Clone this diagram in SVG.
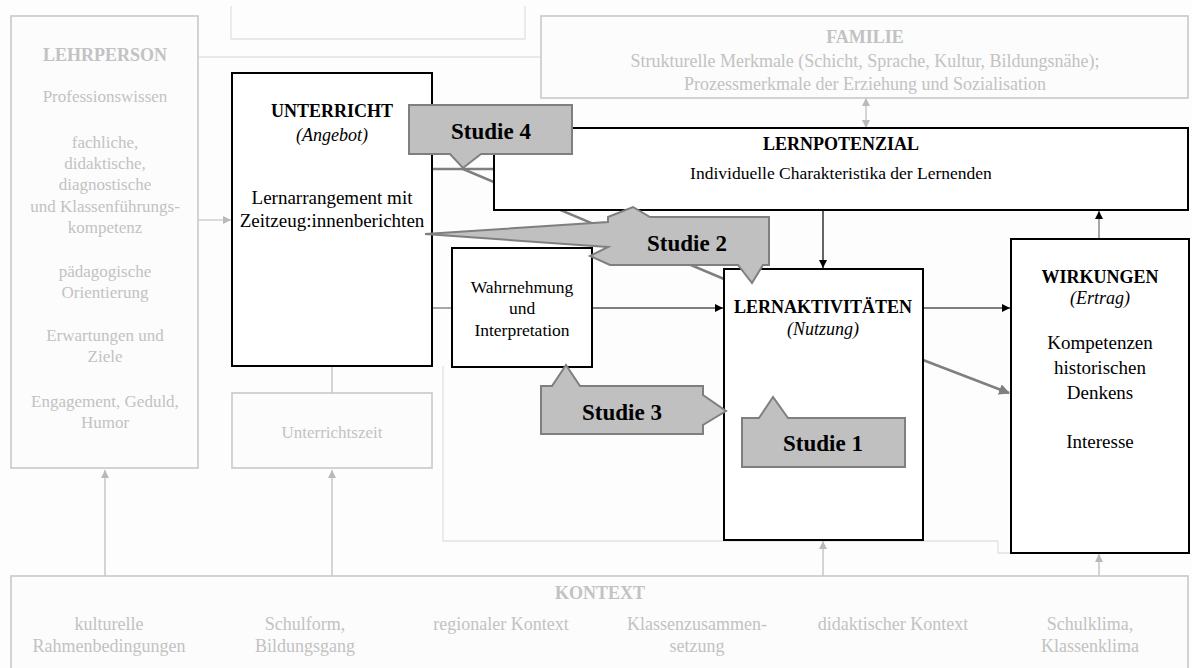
<svg xmlns="http://www.w3.org/2000/svg" width="1192" height="668" viewBox="0 0 1192 668">
  <style>
    text { font-family: "Liberation Serif", "Times New Roman", serif; text-anchor: middle; }
    .box { fill: #ffffff; stroke: #000000; stroke-width: 2; }
    .faintbox { fill: #fcfcfc; stroke: #c9c9c9; stroke-width: 1.6; }
    .faintline { fill: none; stroke: #e2e2e2; stroke-width: 1.3; }
    .ft { fill: #c2c2c2; font-size: 17px; }
    .fk { fill: #c2c2c2; font-size: 18px; }
    .fh { fill: #c2c2c2; font-size: 18px; font-weight: bold; }
    .h { fill: #000; font-size: 18px; font-weight: bold; }
    .it { fill: #000; font-size: 18px; font-style: italic; }
    .t { fill: #000; font-size: 19px; }
    .ts { fill: #000; font-size: 17.5px; }
    .callout { fill: #c0c0c0; stroke: #7f7f7f; stroke-width: 2; stroke-linejoin: miter; }
    .ct { fill: #000; font-size: 23px; font-weight: bold; }
    .blk { fill: none; stroke: #000; stroke-width: 1.2; }
    .lgray { fill: none; stroke: #b9b9b9; stroke-width: 1.2; }
    .dgray { fill: none; stroke: #7f7f7f; stroke-width: 2.5; }
    .mgray { fill: none; stroke: #6e6e6e; stroke-width: 1.2; }
  </style>
  <defs>
    <marker id="ah-black" viewBox="0 0 10 10" refX="10" refY="5" markerWidth="8" markerHeight="8" markerUnits="userSpaceOnUse" orient="auto">
      <path d="M0,0 L10,5 L0,10 z" fill="#000"/>
    </marker>
    <marker id="ah-light" viewBox="0 0 10 10" refX="10" refY="5" markerWidth="8" markerHeight="8" markerUnits="userSpaceOnUse" orient="auto">
      <path d="M0,0 L10,5 L0,10 z" fill="#b9b9b9"/>
    </marker>
    <marker id="ah-light-start" viewBox="0 0 10 10" refX="0" refY="5" markerWidth="8" markerHeight="8" markerUnits="userSpaceOnUse" orient="auto">
      <path d="M10,0 L0,5 L10,10 z" fill="#b9b9b9"/>
    </marker>
    <marker id="ah-dark" viewBox="0 0 10 10" refX="9" refY="5" markerWidth="11" markerHeight="11" markerUnits="userSpaceOnUse" orient="auto">
      <path d="M0,0 L10,5 L0,10 z" fill="#7f7f7f"/>
    </marker>
  </defs>

  <!-- page -->
  <rect x="0" y="0" width="1192" height="668" fill="#fdfdfd"/>

  <!-- faint frame lines in the background -->
  <g id="frame">
    <polyline class="faintline" points="231,6 231,39 525,39 525,6"/>
    <line class="faintline" x1="198" y1="57" x2="541" y2="57"/>
    <polyline class="faintline" points="443,366 443,541 998,541 998,553 1010,553"/>
  </g>

  <!-- connectors -->
  <g id="connectors">
    <line class="lgray" x1="198" y1="220" x2="231" y2="220" marker-end="url(#ah-light)"/>
    <line class="lgray" x1="332" y1="366" x2="332" y2="393"/>
    <line class="lgray" x1="866" y1="98" x2="866" y2="128" marker-start="url(#ah-light-start)" marker-end="url(#ah-light)"/>
    <line class="lgray" x1="105" y1="576" x2="105" y2="470" marker-end="url(#ah-light)"/>
    <line class="lgray" x1="332" y1="576" x2="332" y2="470" marker-end="url(#ah-light)"/>
    <line class="lgray" x1="823" y1="576" x2="823" y2="541" marker-end="url(#ah-light)"/>
    <line class="lgray" x1="1099" y1="576" x2="1099" y2="554" marker-end="url(#ah-light)"/>
    <line class="dgray" x1="432" y1="169" x2="494" y2="169" stroke-width="2"/>
    <line class="dgray" x1="463" y1="169" x2="724" y2="279" stroke-width="2"/>
    <line class="mgray" x1="432" y1="308" x2="452" y2="308"/>
    <line class="blk" x1="592" y1="308" x2="723" y2="308" marker-end="url(#ah-black)"/>
    <line class="blk" x1="823" y1="210" x2="823" y2="268" marker-end="url(#ah-black)"/>
    <line class="blk" x1="923" y1="308" x2="1010" y2="308" marker-end="url(#ah-black)"/>
    <line class="mgray" x1="1099" y1="239" x2="1099" y2="211" marker-end="url(#ah-black)"/>
    <line class="dgray" x1="923" y1="360" x2="1009" y2="393" marker-end="url(#ah-dark)"/>
  </g>

  <g id="lehrperson">
    <rect class="faintbox" x="11" y="16" width="187" height="452"/>
    <text class="fh" x="105" y="61">LEHRPERSON</text>
    <text class="ft" x="105" y="102">Professionswissen</text>
    <text class="ft" x="105" y="148">fachliche,</text>
    <text class="ft" x="105" y="169">didaktische,</text>
    <text class="ft" x="105" y="190">diagnostische</text>
    <text class="ft" x="105" y="212">und Klassenführungs-</text>
    <text class="ft" x="105" y="233">kompetenz</text>
    <text class="ft" x="105" y="277">pädagogische</text>
    <text class="ft" x="105" y="298">Orientierung</text>
    <text class="ft" x="105" y="341">Erwartungen und</text>
    <text class="ft" x="105" y="362">Ziele</text>
    <text class="ft" x="105" y="407">Engagement, Geduld,</text>
    <text class="ft" x="105" y="428">Humor</text>
  </g>

  <g id="unterrichtszeit">
    <rect class="faintbox" x="232" y="393" width="200" height="75"/>
    <text class="ft" x="332" y="438">Unterrichtszeit</text>
  </g>

  <g id="familie">
    <rect class="faintbox" x="541" y="16" width="647" height="82"/>
    <text class="fh" x="865" y="43">FAMILIE</text>
    <text class="fk" x="865" y="67">Strukturelle Merkmale (Schicht, Sprache, Kultur, Bildungsnähe);</text>
    <text class="fk" x="865" y="90">Prozessmerkmale der Erziehung und Sozialisation</text>
  </g>

  <g id="kontext">
    <rect class="faintbox" x="11" y="576" width="1177" height="100"/>
    <text class="fh" x="600" y="599">KONTEXT</text>
    <text class="fk" x="109" y="630">kulturelle</text>
    <text class="fk" x="109" y="652">Rahmenbedingungen</text>
    <text class="fk" x="305" y="630">Schulform,</text>
    <text class="fk" x="305" y="652">Bildungsgang</text>
    <text class="fk" x="501" y="630">regionaler Kontext</text>
    <text class="fk" x="697" y="630">Klassenzusammen-</text>
    <text class="fk" x="697" y="652">setzung</text>
    <text class="fk" x="893" y="630">didaktischer Kontext</text>
    <text class="fk" x="1090" y="630">Schulklima,</text>
    <text class="fk" x="1090" y="652">Klassenklima</text>
  </g>

  <g id="unterricht">
    <rect class="box" x="232" y="73" width="200" height="293"/>
    <text class="h" x="332" y="117">UNTERRICHT</text>
    <text class="it" x="332" y="141">(Angebot)</text>
    <text class="t" x="332" y="204">Lernarrangement mit</text>
    <text class="t" x="332" y="227">Zeitzeug:innenberichten</text>
  </g>

  <g id="lernpotenzial">
    <rect class="box" x="494" y="128" width="694" height="82"/>
    <text class="h" x="841" y="150">LERNPOTENZIAL</text>
    <text class="ts" x="841" y="179">Individuelle Charakteristika der Lernenden</text>
  </g>

  <g id="wahrnehmung">
    <rect class="box" x="452" y="248" width="140" height="119"/>
    <text class="ts" x="522" y="293">Wahrnehmung</text>
    <text class="ts" x="522" y="314">und</text>
    <text class="ts" x="522" y="336">Interpretation</text>
  </g>

  <g id="lernaktivitaeten">
    <rect class="box" x="724" y="269" width="199" height="271"/>
    <text class="h" x="823" y="313">LERNAKTIVITÄTEN</text>
    <text class="it" x="823" y="335">(Nutzung)</text>
  </g>

  <g id="wirkungen">
    <rect class="box" x="1011" y="239" width="178" height="314"/>
    <text class="h" x="1100" y="283">WIRKUNGEN</text>
    <text class="it" x="1100" y="304">(Ertrag)</text>
    <text class="t" x="1100" y="349">Kompetenzen</text>
    <text class="t" x="1100" y="374">historischen</text>
    <text class="t" x="1100" y="399">Denkens</text>
    <text class="t" x="1100" y="448">Interesse</text>
  </g>

  <!-- study callouts -->
  <g id="studie4">
    <polygon class="callout" points="409,105 572,105 572,154 481,154 463,168 450,154 409,154"/>
    <text class="ct" x="491" y="139">Studie 4</text>
  </g>

  <g id="studie2">
    <polygon class="callout" points="425,234 608,222 608,217 633,207 650,217 769,217 769,265 763,265 752,283 738,265 610,265 590,256 608,247"/>
    <text class="ct" x="687" y="251">Studie 2</text>
  </g>

  <g id="studie3">
    <polygon class="callout" points="541,386 552,386 566,365 580,386 703,386 703,395 726,411 703,425 703,434 541,434"/>
    <text class="ct" x="622" y="420">Studie 3</text>
  </g>

  <g id="studie1">
    <polygon class="callout" points="742,418 759,418 773,397 788,418 905,418 905,467 742,467"/>
    <text class="ct" x="823" y="451">Studie 1</text>
  </g>
</svg>
